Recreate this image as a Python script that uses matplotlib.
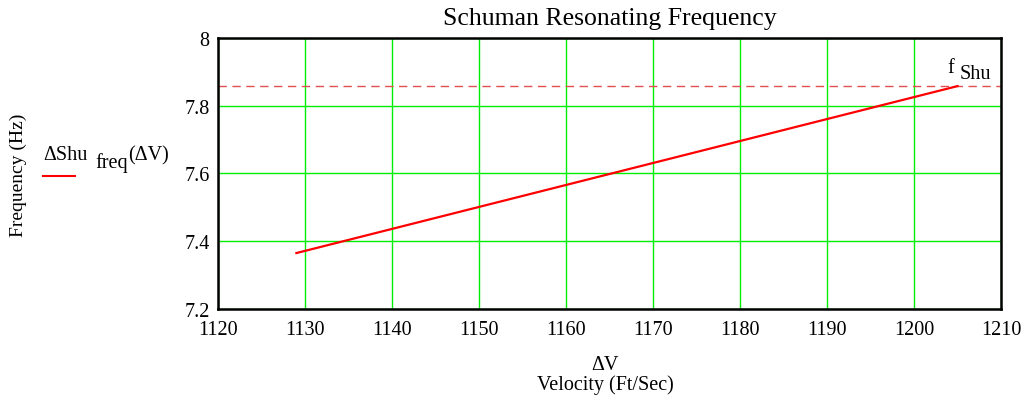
import matplotlib.pyplot as plt

plt.rcParams['font.family'] = ['Liberation Serif', 'DejaVu Serif']

# velocity range and the resulting Schumann frequency
dV = [1129.0, 1205.0]
shu_freq = [7.365, 7.858]
f_shu = 7.858

x_ticks = [1120, 1130, 1140, 1150, 1160, 1170, 1180, 1190, 1200, 1210]
y_ticks = [7.2, 7.4, 7.6, 7.8, 8.0]
y_labels = ['7.2', '7.4', '7.6', '7.8', '8']

fig = plt.figure(figsize=(10.31, 4.02), dpi=100)
ax = fig.add_axes([0.2115, 0.229, 0.7595, 0.674])

ax.plot(dV, shu_freq, color='#ff0000', lw=1.6, zorder=3)
ax.axhline(f_shu, color='#e05050', lw=1.0, dashes=(6, 4), zorder=2)

ax.set_xlim(1120, 1210)
ax.set_ylim(7.2, 8.0)
ax.set_xticks(x_ticks)
ax.set_yticks(y_ticks)
ax.set_yticklabels(y_labels)
ax.tick_params(length=0, labelsize=14.5)
ax.tick_params(axis='x', pad=8)
ax.tick_params(axis='y', pad=6)
ax.grid(color='#00ee00', lw=1.0)
ax.set_axisbelow(True)
for s in ax.spines.values():
    s.set_linewidth(1.8)
    s.set_color('black')

ax.set_title('Schuman Resonating Frequency', fontsize=18.5, pad=10)
fig.text(0.018, 0.563, 'Frequency (Hz)', rotation=90, ha='center', va='center', fontsize=14)
fig.text(0.587, 0.092, 'ΔV', ha='center', va='center', fontsize=14.5)
fig.text(0.587, 0.042, 'Velocity (Ft/Sec)', ha='center', va='center', fontsize=14.5)

# legend entry
fig.text(0.042, 0.612, 'ΔShu', ha='left', va='center', fontsize=14.5)
fig.text(0.092, 0.594, 'freq', ha='left', va='center', fontsize=14.5)
fig.text(0.124, 0.612, '(ΔV)', ha='left', va='center', fontsize=14.5)
fig.lines.append(plt.Line2D([0.042, 0.073], [0.56, 0.56], color='#ff0000', lw=1.5,
                            transform=fig.transFigure))

# label for the dashed reference line
fig.text(0.919, 0.83, 'f', ha='left', va='center', fontsize=14.5)
fig.text(0.931, 0.815, 'Shu', ha='left', va='center', fontsize=14.5)

fig.savefig('out.png', dpi=100)
